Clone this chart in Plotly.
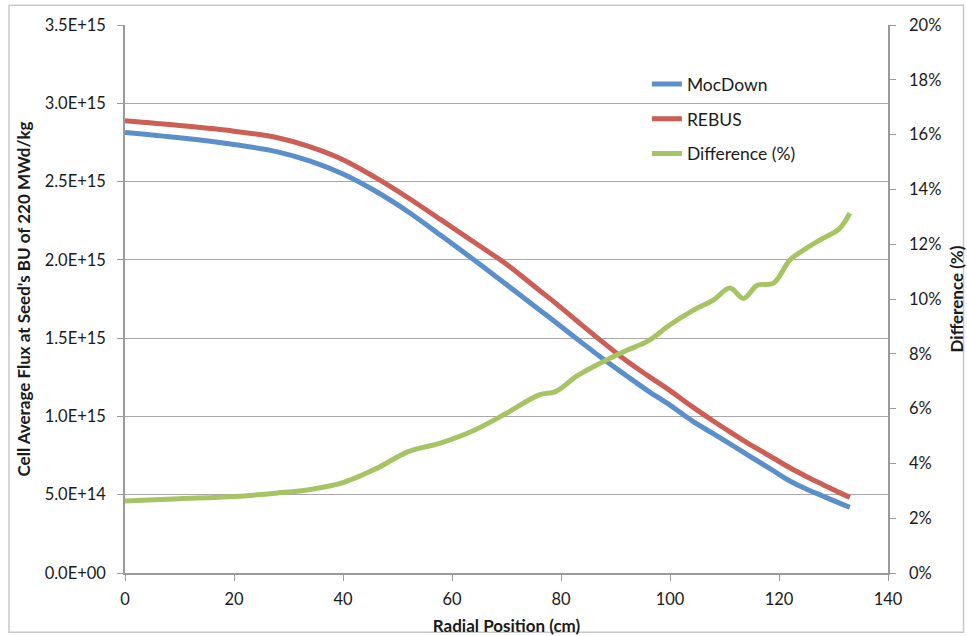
import plotly.graph_objects as go

# Radial position of each cell (cm)
radial_cm = [0, 10, 20, 28, 34, 40, 46, 52, 58, 64, 70, 76, 79, 83, 88, 92, 96,
             100, 104, 108, 111, 113.5, 116, 119, 122, 125, 128, 131, 133]

# Cell average flux at seed BU of 220 MWd/kg
mocdown_flux = [2.814e15, 2.780e15, 2.737e15, 2.690e15, 2.630e15, 2.548e15, 2.438e15,
                2.306e15, 2.155e15, 2.001e15, 1.842e15, 1.682e15, 1.602e15, 1.493e15,
                1.360e15, 1.260e15, 1.162e15, 1.072e15, 0.973e15, 0.888e15, 0.824e15,
                0.770e15, 0.717e15, 0.652e15, 0.588e15, 0.536e15, 0.492e15, 0.448e15,
                0.420e15]
rebus_flux = [2.888e15, 2.858e15, 2.822e15, 2.780e15, 2.722e15, 2.640e15, 2.525e15,
              2.395e15, 2.255e15, 2.114e15, 1.972e15, 1.806e15, 1.724e15, 1.608e15,
              1.465e15, 1.355e15, 1.259e15, 1.165e15, 1.064e15, 0.969e15, 0.901e15,
              0.846e15, 0.794e15, 0.733e15, 0.672e15, 0.617e15, 0.566e15, 0.515e15,
              0.483e15]

# Relative difference (%)
difference_pct = [2.63, 2.71, 2.79, 2.92, 3.05, 3.30, 3.80, 4.43, 4.75, 5.20, 5.83,
                  6.50, 6.62, 7.20, 7.74, 8.12, 8.47, 9.06, 9.56, 9.97, 10.40, 10.02,
                  10.50, 10.58, 11.42, 11.85, 12.21, 12.55, 13.13]

flux_ticks = [0, 0.5e15, 1.0e15, 1.5e15, 2.0e15, 2.5e15, 3.0e15, 3.5e15]
flux_tick_text = ["0.0E+00", "5.0E+14", "1.0E+15", "1.5E+15", "2.0E+15",
                  "2.5E+15", "3.0E+15", "3.5E+15"]

FONT = "Lato, 'Open Sans', sans-serif"
AXIS_GRAY = "#9a9a9a"
TICK_SIZE = 16.5
TITLE_SIZE = 17

fig = go.Figure()
fig.add_trace(go.Scatter(x=radial_cm, y=mocdown_flux, name="MocDown", mode="lines",
                         line=dict(color="#5A8FCC", width=5, shape="spline"),
                         legendgroup="a"))
fig.add_trace(go.Scatter(x=radial_cm, y=rebus_flux, name="REBUS", mode="lines",
                         line=dict(color="#CD5E56", width=5, shape="spline"),
                         legendgroup="b"))
fig.add_trace(go.Scatter(x=radial_cm, y=difference_pct, name="Difference (%)", mode="lines",
                         line=dict(color="#A6C463", width=5, shape="spline"),
                         yaxis="y2", legendgroup="c"))

fig.update_layout(
    width=967, height=636,
    margin=dict(l=125, r=79, t=25, b=63),
    paper_bgcolor="white", plot_bgcolor="white",
    font=dict(family=FONT, size=16, color="#1a1a1a"),
    xaxis=dict(
        range=[0, 140], dtick=20, tick0=0, automargin=False,
        showline=True, linecolor=AXIS_GRAY, linewidth=1.5,
        ticks="outside", ticklen=6, tickcolor=AXIS_GRAY,
        showgrid=False, zeroline=False,
        title=dict(text="<b>Radial Position (cm)</b>", font=dict(size=TITLE_SIZE), standoff=14),
        tickfont=dict(size=TICK_SIZE), ticklabelstandoff=4,
    ),
    yaxis=dict(
        range=[0, 3.5e15], tickvals=flux_ticks, ticktext=flux_tick_text, automargin=False,
        showline=True, linecolor=AXIS_GRAY, linewidth=1.5,
        ticks="outside", ticklen=6, tickcolor=AXIS_GRAY,
        showgrid=True, gridcolor="#a8a8a8", gridwidth=1.2, zeroline=False,
        title=dict(text="<b>Cell Average Flux at Seed's BU of 220 MWd/kg</b>",
                   font=dict(size=TITLE_SIZE), standoff=10),
        tickfont=dict(size=TICK_SIZE), ticklabelstandoff=8,
    ),
    yaxis2=dict(
        range=[0, 20], dtick=2, tick0=0, ticksuffix="%", automargin=False,
        overlaying="y", side="right",
        showline=True, linecolor=AXIS_GRAY, linewidth=1.5,
        ticks="outside", ticklen=6, tickcolor=AXIS_GRAY,
        showgrid=False, zeroline=False,
        title=dict(text="<b>Difference (%)</b>", font=dict(size=TITLE_SIZE), standoff=15),
        tickfont=dict(size=TICK_SIZE), ticklabelstandoff=10,
    ),
    legend=dict(
        x=0.684, y=0.925, xanchor="left", yanchor="top",
        bgcolor="rgba(0,0,0,0)", font=dict(size=17.5),
        tracegroupgap=9, itemwidth=30,
    ),
    showlegend=True,
)

# Thin frame around the whole chart
fig.add_shape(type="rect", xref="paper", yref="paper",
              x0=-0.152, x1=1.099, y0=-0.108, y1=1.036,
              line=dict(color="#c8c8c8", width=1.5), fillcolor="rgba(0,0,0,0)",
              layer="below")

fig.write_html("out.html")
